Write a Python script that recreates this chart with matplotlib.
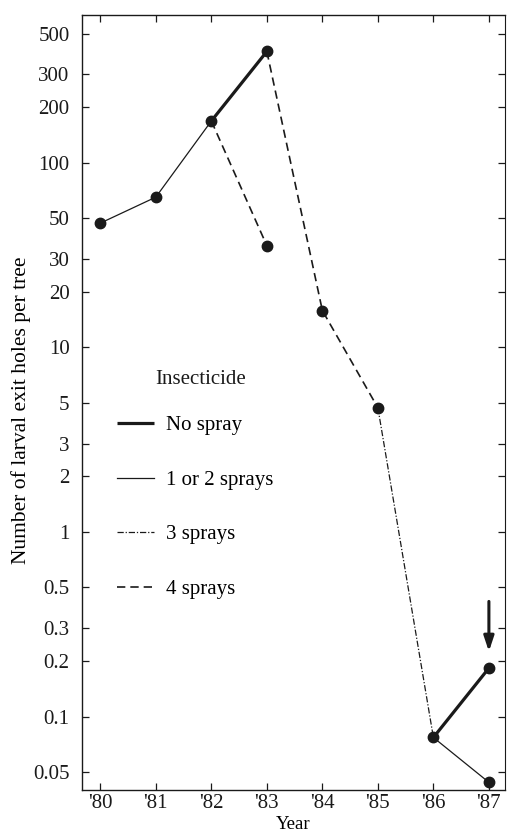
import matplotlib
matplotlib.use("Agg")
import matplotlib.pyplot as plt
from matplotlib.lines import Line2D

plt.rcParams['font.family'] = ['Liberation Serif', 'DejaVu Serif']

# ---- data ----
years = [80, 81, 82, 83, 84, 85, 86, 87]
year_labels = ["'80", "'81", "'82", "'83", "'84", "'85", "'86", "'87"]

# segments by treatment (x list, y list)
one_two_a_x = [80, 81, 82]
one_two_a_y = [47, 65, 168]
one_two_b_x = [86, 87]
one_two_b_y = [0.077, 0.044]

no_spray_a_x = [82, 83]
no_spray_a_y = [168, 400]
no_spray_b_x = [86, 87]
no_spray_b_y = [0.077, 0.183]

four_a_x = [82, 83]
four_a_y = [168, 35.5]
four_b_x = [83, 84, 85]
four_b_y = [400, 15.8, 4.7]

three_x = [85, 86]
three_y = [4.7, 0.077]

pts_x = [80, 81, 82, 83, 83, 84, 85, 86, 87, 87]
pts_y = [47, 65, 168, 400, 35.5, 15.8, 4.7, 0.077, 0.183, 0.044]

ytick_vals = [500, 300, 200, 100, 50, 30, 20, 10, 5, 3, 2, 1, 0.5, 0.3, 0.2, 0.1, 0.05]
ytick_labels = ["500", "300", "200", "100", "50", "30", "20", "10", "5", "3", "2", "1",
                "0.5", "0.3", "0.2", "0.1", "0.05"]

legend_title = 'Insecticide'
legend_labels = ['No spray', '1 or 2 sprays', '3 sprays', '4 sprays']

arrow_x = 87
arrow_tip = 0.225
arrow_tail = 0.42

fig = plt.figure(figsize=(5.07, 8.39), dpi=100)
ax = fig.add_axes([82/507, 49/839, (505-82)/507, (790-15)/839])
ax.set_yscale('log')

c = '#1a1a1a'
thick = dict(color=c, lw=2.3, solid_capstyle='butt')
thin = dict(color=c, lw=0.9)
dash4 = dict(color=c, lw=1.2, linestyle=(0, (5, 3)))
dash3 = dict(color=c, lw=0.9, linestyle=(0, (5, 1.5, 1, 1.5)))

ax.plot(one_two_a_x, one_two_a_y, **thin)
ax.plot(one_two_b_x, one_two_b_y, **thin)
ax.plot(no_spray_a_x, no_spray_a_y, **thick)
ax.plot(no_spray_b_x, no_spray_b_y, **thick)
ax.plot(four_a_x, four_a_y, **dash4)
ax.plot(four_b_x, four_b_y, **dash4)
ax.plot(three_x, three_y, **dash3)
ax.plot(pts_x, pts_y, linestyle='none', marker='o', ms=7.5, mfc=c, mec=c, zorder=5)

ax.annotate('', xy=(arrow_x, arrow_tip), xytext=(arrow_x, arrow_tail),
            arrowprops=dict(arrowstyle='-|>,head_width=0.3,head_length=0.9',
                            color=c, lw=2.2, shrinkA=0, shrinkB=0))

ax.set_xlim(79.67, 87.29)
ax.set_ylim(0.04, 630)
ax.set_xticks(years)
ax.set_xticklabels(year_labels)
ax.set_yticks(ytick_vals)
ax.set_yticklabels(ytick_labels)
ax.minorticks_off()
ax.tick_params(axis='both', direction='in', length=5, width=0.9, colors=c,
               labelsize=15, top=True, right=True)
ax.tick_params(axis='y', pad=9)
ax.tick_params(axis='x', pad=3)
for s in ax.spines.values():
    s.set_color(c)
    s.set_linewidth(1.0)
ax.spines['right'].set_linewidth(0.8)

ax.set_xlabel('Year', fontsize=13.5)
ax.xaxis.set_label_coords(0.5, -0.0335)
ax.set_ylabel('Number of larval exit holes per tree', fontsize=15.5)
ax.yaxis.set_label_coords(-51/423, 0.49)

handles = [Line2D([], [], **thick), Line2D([], [], **thin),
           Line2D([], [], **dash3), Line2D([], [], **dash4)]
ax.text(73/423, 0.530, legend_title, transform=ax.transAxes, fontsize=15,
        ha='left', va='center', color=c)
leg = ax.legend(handles, legend_labels, frameon=False,
                loc='upper left', bbox_to_anchor=(0.0827, 0.483),
                fontsize=15, handlelength=1.8,
                handletextpad=0.55, labelspacing=1.68, borderpad=0,
                borderaxespad=0)

fig.savefig('out.png', dpi=100, facecolor='white')
